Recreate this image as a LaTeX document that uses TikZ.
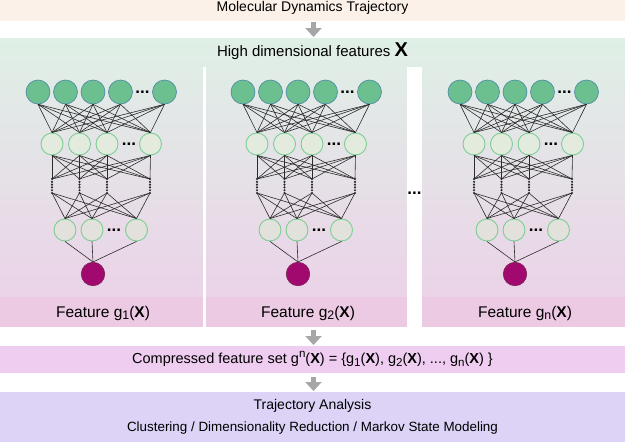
\documentclass[tikz,border=0pt]{standalone}
\usepackage{fontspec}
\setmainfont{Liberation Sans}
\usepackage{graphicx}
\usetikzlibrary{arrows.meta}

\definecolor{topband}{HTML}{FBF1E8}
\definecolor{headgreen}{HTML}{DFF0E6}
\definecolor{gradmid}{HTML}{E7E4E6}
\definecolor{gradlow}{HTML}{EBD3E8}
\definecolor{labband}{HTML}{EDCAE4}
\definecolor{cmpband}{HTML}{EFCDF0}
\definecolor{anaband}{HTML}{DCD3F6}
\definecolor{arrowgray}{HTML}{A6A6A6}
\definecolor{infill}{HTML}{6CBF8F}
\definecolor{inedge}{HTML}{4A86A6}
\definecolor{hidfill}{HTML}{E3EADE}
\definecolor{lowfill}{HTML}{E2E1DB}
\definecolor{hidedge}{HTML}{7DCE94}
\definecolor{outfill}{HTML}{A1096F}
\definecolor{outedge}{HTML}{7B2456}
\definecolor{wirecol}{HTML}{2B2B2B}

\newcommand{\lowr}[1]{\raisebox{-0.35ex}{\scalebox{0.8}{#1}}}
\newcommand{\upr}[1]{\raisebox{0.75ex}{\scalebox{0.8}{#1}}}

\tikzset{
  inunit/.style={circle,draw=inedge,fill=infill,line width=0.6pt,minimum size=24pt,inner sep=0pt},
  hidunit/.style={circle,draw=hidedge,fill=hidfill,line width=0.9pt,minimum size=22pt,inner sep=0pt},
  lowunit/.style={hidunit,fill=lowfill},
  outunit/.style={circle,draw=outedge,fill=outfill,line width=0.6pt,minimum size=23.5pt,inner sep=0pt},
  wire/.style={draw=wirecol,line width=0.6pt},
  ell/.style={font=\fontsize{17}{17}\selectfont\bfseries,inner sep=0pt},
  featlab/.style={font=\fontsize{15.5}{18}\selectfont,inner sep=0pt},
  bandtxt/.style={inner sep=0pt},
  flowarrow/.style={arrowgray,line width=5.5pt,-{Triangle[width=16pt,length=9pt]}},
}

% one feature network: x shift, name prefix, subscript
\newcommand{\featnet}[3]{%
  \begin{scope}[xshift=#1pt]
    % input layer
    \foreach \k/\xx in {1/38,2/65.5,3/93,4/120.5,5/164.5}
      \node[inunit] (#2in\k) at (\xx,92) {};
    \node[ell] (#2ine) at (142.5,92) {...};
    % first hidden layer
    \foreach \k/\xx in {1/52,2/79.5,3/107,4/150.5}
      \node[hidunit] (#2hd\k) at (\xx,144) {};
    \node[ell] (#2hde) at (129,144) {...};
    % elided layers
    \foreach \k/\xx in {1/52,2/79.5,3/107,4/150}{
      \coordinate (#2up\k) at (\xx,179);
      \coordinate (#2dn\k) at (\xx,193);
      \foreach \t in {0,...,5}
        \fill[wirecol] (\xx,179+2.8*\t) circle (1.2);
    }
    % last hidden layer
    \foreach \k/\xx in {1/65,2/92,3/136.5}
      \node[lowunit] (#2lw\k) at (\xx,230) {};
    \node[ell] (#2lwe) at (114,230) {...};
    % output unit
    \node[outunit] (#2out) at (93,274) {};
    % wires
    \foreach \a in {1,...,5}
      \foreach \b in {1,...,4}
        \draw[wire] (#2in\a.south) -- (#2hd\b.north);
    \foreach \a in {1,...,4}
      \foreach \b in {1,...,4}
        \draw[wire] (#2hd\a.south) -- (#2up\b);
    \foreach \a in {1,...,4}
      \foreach \b in {1,...,3}
        \draw[wire] (#2dn\a) -- (#2lw\b.north);
    \foreach \b in {1,...,3}
      \draw[wire] (#2lw\b.south) -- (#2out.north);
    \node[featlab] (#2lab) at (103,313) {Feature g\lowr{#3}(\textbf{X})};
  \end{scope}}

\begin{document}
\begin{tikzpicture}[x=1pt,y=-1pt]
  \useasboundingbox (0,0) rectangle (625,442);
  % bands
  \fill[topband] (0,0) rectangle (625,21);
  \shade[top color=headgreen,middle color=gradmid,bottom color=gradlow] (0,38) rectangle (625,297);
  \fill[labband] (0,297) rectangle (625,327);
  \fill[white] (203,67) rectangle (205.5,327);
  \fill[white] (407,67) rectangle (422,327);
  \fill[cmpband] (0,346) rectangle (625,373);
  \fill[anaband] (0,392) rectangle (625,442);

  \node[bandtxt,font=\fontsize{14}{16}\selectfont] (mdt) at (312.5,8) {Molecular Dynamics Trajectory};
  \node[bandtxt,font=\fontsize{15}{18}\selectfont] (hdf) at (312.5,51) {High dimensional features {\bfseries\fontsize{20}{20}\selectfont X}};

  \featnet{0}{pa}{1}
  \featnet{205}{pb}{2}
  \featnet{422}{pc}{n}
  \node[ell] (gapell) at (414.5,193) {...};

  \node[bandtxt,font=\fontsize{14.5}{17}\selectfont] (cfs) at (312.5,359) {Compressed feature set g\upr{n}(\textbf{X}) = \{g\lowr{1}(\textbf{X}), g\lowr{2}(\textbf{X}), ..., g\lowr{n}(\textbf{X}) \}};
  \node[bandtxt,font=\fontsize{14}{16}\selectfont] (tra) at (312.5,406) {Trajectory Analysis};
  \node[bandtxt,font=\fontsize{13.4}{16}\selectfont] (cdm) at (312.5,428) {Clustering / Dimensionality Reduction / Markov State Modeling};

  % flow arrows
  \coordinate (fa1) at (313.5,22);  \coordinate (fb1) at (313.5,37);
  \coordinate (fa2) at (313.5,330); \coordinate (fb2) at (313.5,345);
  \coordinate (fa3) at (313.5,377); \coordinate (fb3) at (313.5,391);
  \foreach \i in {1,2,3}
    \draw[flowarrow] (fa\i) -- (fb\i);
\end{tikzpicture}
\end{document}
